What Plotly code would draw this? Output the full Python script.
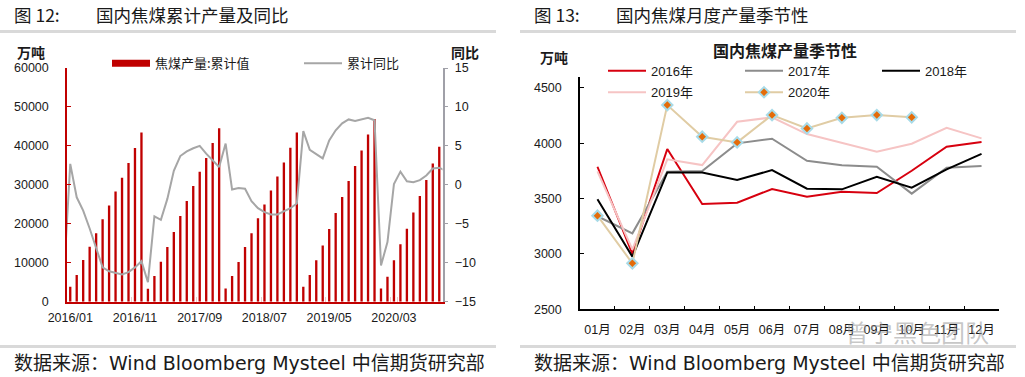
import plotly.graph_objects as go

# ---------------- data: left chart (cumulative coking coal output & YoY) ----------------
years = [2015, 2016, 2017, 2018, 2019, 2020]
all_months = ["2015/12"] + [f"{y}/{m:02d}" for y in years[1:] for m in range(1, 13)]
all_months = all_months[: all_months.index("2020/11") + 1]
bar_months = all_months[1: all_months.index("2020/10") + 1]

cum_prod = [
    3850, 6850, 10700, 14100, 17550, 21200, 24700, 28300, 31800, 35600, 39450, 43470,
    3340, 6600, 10270, 14040, 17900, 22000, 25850, 29700, 33370, 36900, 40730, 44500,
    3420, 6600, 10190, 14040, 17550, 21400, 24980, 28580, 32170, 35760, 39530, 43470,
    3850, 6850, 10610, 14460, 18650, 22760, 26870, 30970, 34830, 38850, 42950, 46900,
    3420, 6420, 10610, 14720, 18740, 22930, 27130, 31230, 35510, 39790,
]
cum_yoy = [
    -12.0,
    2.7, -1.6, -3.3, -5.6, -8.2, -10.6, -11.1, -11.3, -11.5, -11.2, -10.6, -9.8,
    -12.5, -4.05, -4.5, -1.8, 1.8, 3.7, 4.3, 4.7, 5.0, 4.0, 3.1, 2.3,
    5.3, -0.6, -0.4, -0.5, -2.1, -3.0, -3.5, -3.8, -3.8, -3.4, -3.0, -2.4,
    6.9, 4.5, 4.0, 3.4, 5.7, 7.0, 7.9, 8.4, 8.2, 8.4, 8.6, 8.3,
    -10.35, -7.35, 0.1, 1.7, 0.45, 0.35, 0.6, 1.2, 2.1, 2.2, 1.8,
]
left_ticks = ["2016/01", "2016/11", "2017/09", "2018/07", "2019/05", "2020/03"]

# ---------------- data: right chart (monthly output seasonality) ----------------
month_labels = ["01月", "02月", "03月", "04月", "05月", "06月",
                "07月", "08月", "09月", "10月", "11月", "12月"]
y2016 = [3787, 3000, 3947, 3450, 3462, 3586, 3516, 3561, 3550, 3751, 3968, 4010]
y2017 = [3340, 3186, 3742, 3748, 3998, 4040, 3841, 3800, 3787, 3544, 3778, 3793]
y2018 = [3493, 2975, 3736, 3736, 3667, 3757, 3589, 3583, 3697, 3598, 3763, 3904]
y2019 = [3745, 3040, 3854, 3802, 4193, 4233, 4082, 4004, 3922, 3995, 4139, 4043]
y2020 = [3345, 2915, 4344, 4058, 4007, 4254, 4133, 4229, 4254, 4233]

W, H = 1025, 377
def px(x):
    return x / W
def py(y):
    return 1 - y / H

CJK = "Noto Sans CJK SC"
TICKF = "Liberation Sans, Noto Sans CJK SC"
SRCF = "DejaVu Sans, Noto Sans CJK SC"
RED = "#c00000"

fig = go.Figure()

# left chart traces
fig.add_trace(go.Bar(x=bar_months, y=cum_prod, marker=dict(color=RED, line=dict(width=0)),
                     width=0.36, showlegend=False, xaxis="x", yaxis="y"))
fig.add_trace(go.Scatter(x=[None], y=[None], mode="lines", name="焦煤产量:累计值",
                         line=dict(color=RED, width=7), legend="legend", xaxis="x", yaxis="y"))
fig.add_trace(go.Scatter(x=all_months, y=cum_yoy, mode="lines", name="累计同比",
                         line=dict(color="#a6a6a6", width=2), legend="legend",
                         xaxis="x", yaxis="y2"))

# right chart traces
series = [("2016年", y2016, "#d7000f", "legend2"),
          ("2017年", y2017, "#8c8c8c", "legend2"),
          ("2018年", y2018, "#000000", "legend2"),
          ("2019年", y2019, "#f6c4c4", "legend3")]
for name, vals, col, lg in series:
    fig.add_trace(go.Scatter(x=month_labels[:len(vals)], y=vals, mode="lines", name=name,
                             line=dict(color=col, width=2), legend=lg,
                             xaxis="x2", yaxis="y3"))
fig.add_trace(go.Scatter(x=month_labels[:len(y2020)], y=y2020, mode="lines+markers", name="2020年",
                         line=dict(color="#e0cca4", width=2),
                         marker=dict(symbol="diamond", size=8, color="#e46c0a",
                                     line=dict(color="#a8dbe8", width=2)),
                         legend="legend3", xaxis="x2", yaxis="y3"))

tickfont = dict(family=TICKF, size=12.5, color="#1a1a1a")

fig.update_layout(
    width=W, height=H, margin=dict(l=0, r=0, t=0, b=0, autoexpand=False),
    paper_bgcolor="white", plot_bgcolor="rgba(0,0,0,0)",
    xaxis=dict(domain=[px(67), px(442.5)], anchor="y", type="category",
               categoryorder="array", categoryarray=all_months,
               range=[0.5, len(all_months) - 1.5],
               tickmode="array", tickvals=left_ticks, ticktext=left_ticks, tickangle=0,
               tickson="boundaries", ticks="inside", ticklen=5, tickcolor="#f0c8c8",
               showline=True, linecolor=RED, linewidth=1.5, showgrid=False,
               tickfont=tickfont, ticklabelstandoff=4, zeroline=False),
    yaxis=dict(domain=[py(301.7), py(68)], anchor="x", range=[0, 60000], dtick=10000,
               tickformat="d",
               showline=True, linecolor=RED, linewidth=1.5, ticks="inside", ticklen=4,
               tickcolor=RED, showgrid=False, zeroline=False, tickfont=tickfont,
               ticklabelstandoff=14),
    yaxis2=dict(overlaying="y", side="right", anchor="x", range=[-15, 15], dtick=5,
                showline=True, linecolor="#a0a0a8", linewidth=1.5, ticks="outside",
                ticklen=4, tickcolor="#a0a0a8", showgrid=False, zeroline=False,
                tickfont=tickfont, ticklabelstandoff=4),
    xaxis2=dict(domain=[px(580), px(999)], anchor="y3", type="category",
                categoryorder="array", categoryarray=month_labels, range=[-0.5, 11.5],
                tickangle=0,
                tickson="boundaries", ticks="inside", ticklen=4, tickcolor="#000",
                showline=True, linecolor="#000", linewidth=1.5, showgrid=False,
                tickfont=tickfont, ticklabelstandoff=8, zeroline=False),
    yaxis3=dict(domain=[py(309.3), py(76.7)], anchor="x2", range=[2500, 4600],
                tickvals=[2500, 3000, 3500, 4000, 4500], showline=True, linecolor="#000",
                linewidth=1.5, ticks="inside", ticklen=4, tickcolor="#000", showgrid=False,
                zeroline=False, tickfont=tickfont, ticklabelstandoff=14),
    legend=dict(orientation="h", x=px(107), y=py(63.3), xanchor="left", yanchor="middle",
                itemwidth=38, entrywidth=139, entrywidthmode="pixels",
                bgcolor="rgba(0,0,0,0)",
                font=dict(family=CJK, size=13, color="#1a1a1a"), traceorder="normal"),
    legend2=dict(orientation="h", x=px(603), y=py(70.7), xanchor="left", yanchor="middle",
                 itemwidth=38, entrywidth=84, entrywidthmode="pixels",
                 bgcolor="rgba(0,0,0,0)",
                 font=dict(family=TICKF, size=13, color="#1a1a1a"), traceorder="normal"),
    legend3=dict(orientation="h", x=px(603), y=py(92.3), xanchor="left", yanchor="middle",
                 itemwidth=38, entrywidth=84, entrywidthmode="pixels",
                 bgcolor="rgba(0,0,0,0)",
                 font=dict(family=TICKF, size=13, color="#1a1a1a"), traceorder="normal"),
)

def ann(text, x, y, size, bold=False, xanchor="left", color="#1a1a1a", family=CJK):
    fig.add_annotation(text=f"<b>{text}</b>" if bold else text, xref="paper", yref="paper",
                       x=px(x), y=py(y), xanchor=xanchor, yanchor="middle", showarrow=False,
                       font=dict(family=family, size=size, color=color))

# titles
ann("图 12:", 12, 15, 17.5)
ann("国内焦煤累计产量及同比", 94, 15, 17.5)
ann("图 13:", 532, 15, 17.5)
ann("国内焦煤月度产量季节性", 614, 15, 17.5)
# unit labels
ann("万吨", 31, 52, 14, bold=True, xanchor="center")
ann("同比", 465, 52, 14, bold=True, xanchor="center")
ann("万吨", 554, 57, 14, bold=True, xanchor="center")
ann("国内焦煤产量季节性", 785, 50, 16, bold=True, xanchor="center")
# sources
ann("数据来源：Wind Bloomberg Mysteel 中信期货研究部", 12, 363, 19, family=SRCF)
ann("数据来源：Wind Bloomberg Mysteel 中信期货研究部", 532, 363, 19, family=SRCF)
# watermark
ann("曾宁黑色团队", 917, 331, 24, xanchor="center", color="rgba(150,150,150,0.55)")

# separator bars
for x0, x1 in [(0, 496), (520, 1016)]:
    for y0 in (30, 345):
        fig.add_shape(type="rect", xref="paper", yref="paper", x0=px(x0), x1=px(x1),
                      y0=py(y0), y1=py(y0 + 3), fillcolor="#d9d9d9", line=dict(width=0),
                      layer="below")

fig.write_html("out.html", config={"displayModeBar": False},
               post_script="document.body.style.margin='0';document.body.style.overflow='hidden';")
